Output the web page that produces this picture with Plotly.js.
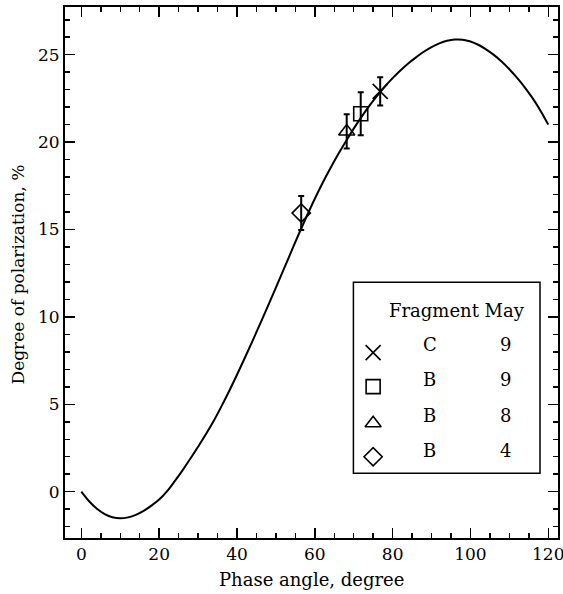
<!DOCTYPE html>
<html>
<head>
<meta charset="utf-8">
<script src="https://cdn.plot.ly/plotly-3.0.1.min.js"></script>
<style>html,body{margin:0;padding:0;background:#fff;}#chart{width:563px;height:594px;}</style>
</head>
<body>
<div id="chart"></div>
<script>
// Model curve
const curvePhase = [0,2,4,6,8,10,12,14,16,18,20,22,24,26,28,30,32,34,36,38,40,42,44,46,48,50,52,54,56,58,60,62,64,66,68,70,72,74,76,78,80,82,84,86,88,90,92,94,96,98,100,102,104,106,108,110,112,114,116,118,120];
const curvePol = [0,-0.55,-0.98,-1.28,-1.46,-1.52,-1.47,-1.33,-1.10,-0.80,-0.45,0.02,0.6,1.22,1.88,2.57,3.28,4.04,4.88,5.76,6.69,7.65,8.63,9.63,10.65,11.68,12.72,13.76,14.8,15.8,16.76,17.66,18.5,19.3,20.05,20.77,21.44,22.07,22.65,23.18,23.66,24.1,24.5,24.85,25.17,25.44,25.65,25.8,25.87,25.86,25.76,25.57,25.31,24.99,24.61,24.17,23.67,23.12,22.5,21.8,21.0];

// Observations
const fragment = ['C','B','B','B'];
const month = ['9','9','8','4'];
const obsPhase = [76.8, 71.8, 68.2, 56.5];
const obsPol = [22.9, 21.62, 20.61, 15.94];
const obsErr = [0.81, 1.23, 0.98, 0.97];
const symbols = ['x-thin-open','square-open','triangle-up-open','diamond-open'];

const FONT = 'DejaVu Serif';
const traces = [{
  x: curvePhase, y: curvePol, mode: 'lines', type: 'scatter',
  line: {color: '#000', width: 2, shape: 'spline', smoothing: 1}, hoverinfo: 'skip', showlegend: false
}];
for (let i = 0; i < obsPhase.length; i++) {
  traces.push({
    x: [obsPhase[i]], y: [obsPol[i]], mode: 'markers', type: 'scatter', showlegend: false,
    marker: {symbol: symbols[i], size: i === 0 ? 15 : 14, color: '#000', line: {color: '#000', width: 1.6}},
    error_y: {type: 'data', array: [obsErr[i]], visible: true, color: '#000', thickness: 2, width: 3}
  });
}
// legend symbols on an overlay axis (0..1)
const legRowY = [0.349, 0.285, 0.216, 0.153];
const legTextY = [0.364, 0.298, 0.231, 0.165];
for (let i = 0; i < symbols.length; i++) {
  traces.push({
    x: [0.625], y: [legRowY[i]], xaxis: 'x2', yaxis: 'y2', mode: 'markers', type: 'scatter', showlegend: false,
    marker: {symbol: symbols[i], size: i === 0 ? 15 : 14, color: '#000', line: {color: '#000', width: 1.6}},
    hoverinfo: 'skip'
  });
}
const annotations = [{
  text: 'Fragment May', xref: 'paper', yref: 'paper', x: 0.795, y: 0.428,
  showarrow: false, xanchor: 'center', yanchor: 'middle', font: {family: FONT, size: 18, color: '#000'}
}, {
  text: 'Phase angle, degree', xref: 'paper', yref: 'paper', x: 0.5, y: (538 - 579) / 531,
  showarrow: false, xanchor: 'center', yanchor: 'middle', font: {family: FONT, size: 18, color: '#000'}
}, {
  text: 'Degree of polarization, %', xref: 'paper', yref: 'paper', x: (17 - 65) / 493, y: (538 - 274.5) / 531,
  showarrow: false, xanchor: 'center', yanchor: 'middle', textangle: -90, font: {family: FONT, size: 17, color: '#000'}
}];
for (let i = 0; i < fragment.length; i++) {
  annotations.push({text: fragment[i], xref: 'paper', yref: 'paper', x: 0.74, y: legTextY[i],
    showarrow: false, xanchor: 'center', yanchor: 'middle', font: {family: FONT, size: 18, color: '#000'}});
  annotations.push({text: month[i], xref: 'paper', yref: 'paper', x: 0.894, y: legTextY[i],
    showarrow: false, xanchor: 'center', yanchor: 'middle', font: {family: FONT, size: 18, color: '#000'}});
}

const axisCommon = {
  showline: true, linewidth: 2, linecolor: '#000', mirror: 'ticks',
  ticks: 'inside', ticklen: 10, tickwidth: 1.5, tickcolor: '#000',
  showgrid: false, zeroline: false, ticklabeloverflow: 'allow',
  tickfont: {family: FONT, size: 17, color: '#000'}
};
const layout = {
  width: 563, height: 594,
  margin: {l: 65, r: 5, t: 7, b: 56},
  paper_bgcolor: '#fff', plot_bgcolor: '#fff',
  showlegend: false,
  font: {family: FONT, color: '#000'},
  xaxis: Object.assign({}, axisCommon, {
    range: [-4.2, 122.5], tick0: 0, dtick: 20,
    minor: {ticks: 'inside', dtick: 5, ticklen: 5, tickwidth: 1.5, tickcolor: '#000'}
  }),
  yaxis: Object.assign({}, axisCommon, {
    range: [-2.65, 27.73], tick0: 0, dtick: 5,
    minor: {ticks: 'inside', dtick: 1, ticklen: 5, tickwidth: 1.5, tickcolor: '#000'}
  }),
  xaxis2: {overlaying: 'x', anchor: 'y2', range: [0, 1], visible: false, fixedrange: true},
  yaxis2: {overlaying: 'y', anchor: 'x2', range: [0, 1], visible: false, fixedrange: true},
  shapes: [{type: 'rect', xref: 'paper', yref: 'paper', x0: 0.585, x1: 0.9635, y0: 0.122, y1: 0.4815,
    line: {color: '#000', width: 1.5}, fillcolor: 'rgba(0,0,0,0)'}],
  annotations: annotations
};
Plotly.newPlot('chart', traces, layout, {displayModeBar: false, staticPlot: true});
</script>
</body>
</html>
